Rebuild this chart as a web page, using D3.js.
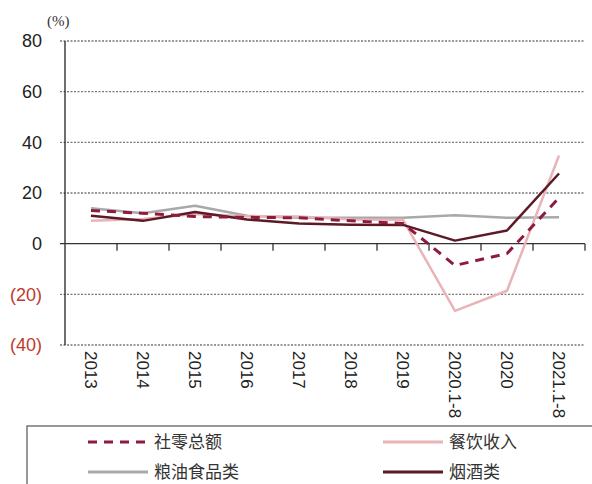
<!DOCTYPE html>
<html><head><meta charset="utf-8">
<script src="https://cdn.jsdelivr.net/npm/d3@7/dist/d3.min.js"></script>
<style>body{margin:0;background:#fff}svg{display:block}</style>
</head><body>
<script>
const categories = ["2013","2014","2015","2016","2017","2018","2019","2020.1-8","2020","2021.1-8"];
const retailTotal = [13.1, 12.0, 10.7, 10.4, 10.2, 9.0, 8.0, -8.6, -3.9, 18.1];
const catering    = [9.0, 9.7, 11.7, 10.8, 10.7, 9.5, 9.4, -26.5, -18.6, 34.8];
const grainOil    = [14.0, 12.0, 15.0, 11.0, 10.2, 10.2, 10.2, 11.2, 10.2, 10.4];
const tobaccoWine = [11.0, 9.0, 12.5, 9.5, 8.0, 7.5, 7.4, 1.2, 5.2, 27.7];
const yTicks = [80, 60, 40, 20, 0, -20, -40];
const seriesNames = ["社零总额","餐饮收入","粮油食品类","烟酒类"];

const W = 592, H = 484;
const svg = d3.select("body").append("svg").attr("width", W).attr("height", H);
const x = d3.scaleBand().domain(categories).range([65, 585]);
const y = d3.scaleLinear().domain([-40, 80]).range([345, 41]);

// grid
svg.append("g").selectAll("line").data(yTicks.filter(d => d !== 0)).join("line")
  .attr("x1", 60).attr("x2", 585).attr("y1", d => y(d)).attr("y2", d => y(d))
  .attr("stroke", "#777").attr("stroke-width", 1.3).attr("stroke-dasharray", "2,1.5");

// y labels
svg.append("g").selectAll("text").data(yTicks).join("text")
  .attr("x", 42).attr("y", d => y(d)).attr("dy", "0.36em").attr("text-anchor", "end")
  .attr("font-family", "Liberation Sans, Arial, sans-serif").attr("font-size", 18)
  .attr("fill", d => d < 0 ? "#c0392b" : "#222")
  .text(d => d < 0 ? `(${-d})` : d);

svg.append("text").attr("x", 47).attr("y", 26).attr("font-family", "Liberation Serif, serif")
  .attr("font-size", 15).attr("fill", "#333").text("(%)");

// y axis line
svg.append("line").attr("x1", 65).attr("x2", 65).attr("y1", y(80)).attr("y2", y(-40))
  .attr("stroke", "#222").attr("stroke-width", 1.3);

// x axis at 0
const xAxis = d3.axisBottom(x).tickSize(0).tickFormat("");
const gx = svg.append("g").attr("transform", `translate(0,${y(0)})`).call(xAxis);
gx.select(".domain").attr("stroke", "#333").attr("stroke-width", 1.3).attr("d", "M60,0H585");
const bounds = categories.map(c => x(c)).concat([x.range()[1]]).slice(1);
gx.selectAll("line.tk").data(bounds).join("line").attr("class", "tk")
  .attr("x1", d => d).attr("x2", d => d).attr("y1", 0).attr("y2", 7)
  .attr("stroke", "#333").attr("stroke-width", 1.3);

// x labels rotated
svg.append("g").selectAll("text").data(categories).join("text")
  .attr("transform", d => `translate(${x(d) + x.bandwidth() / 2},351) rotate(90)`)
  .attr("dy", "0.36em").attr("font-family", "Liberation Sans, Arial, sans-serif")
  .attr("font-size", 17).attr("fill", "#222").text(d => d);

const line = d3.line().x((d, i) => x(categories[i]) + x.bandwidth() / 2).y(d => y(d));
const series = [
  {v: grainOil, c: "#a9a9a9", w: 2.5, dash: null},
  {v: catering, c: "#e9b4b8", w: 2.5, dash: null},
  {v: tobaccoWine, c: "#5b1a26", w: 2.5, dash: null},
  {v: retailTotal, c: "#8e1b3e", w: 3, dash: "9,7"}
];
svg.append("g").selectAll("path").data(series).join("path")
  .attr("d", d => line(d.v)).attr("fill", "none").attr("stroke", d => d.c)
  .attr("stroke-width", d => d.w).attr("stroke-dasharray", d => d.dash)
  .attr("stroke-linejoin", "round");

// legend
svg.append("rect").attr("x", 27).attr("y", 426).attr("width", 600).attr("height", 80)
  .attr("fill", "none").attr("stroke", "#555").attr("stroke-width", 1.2);
const legend = [
  {n: seriesNames[0], c: "#8e1b3e", dash: "9,7", x: 88, y: 442},
  {n: seriesNames[1], c: "#e9b4b8", dash: null, x: 383, y: 442},
  {n: seriesNames[2], c: "#a9a9a9", dash: null, x: 88, y: 472},
  {n: seriesNames[3], c: "#5b1a26", dash: null, x: 383, y: 472}
];
const lg = svg.append("g").selectAll("g").data(legend).join("g");
lg.append("line").attr("x1", d => d.x).attr("x2", d => d.x + 60).attr("y1", d => d.y).attr("y2", d => d.y)
  .attr("stroke", d => d.c).attr("stroke-width", 3).attr("stroke-dasharray", d => d.dash);
lg.append("text").attr("x", d => d.x + 66).attr("y", d => d.y).attr("dy", "0.36em")
  .attr("font-family", "Noto Sans CJK SC, sans-serif").attr("font-size", 17).attr("fill", "#333")
  .text(d => d.n);
</script>
</body></html>
